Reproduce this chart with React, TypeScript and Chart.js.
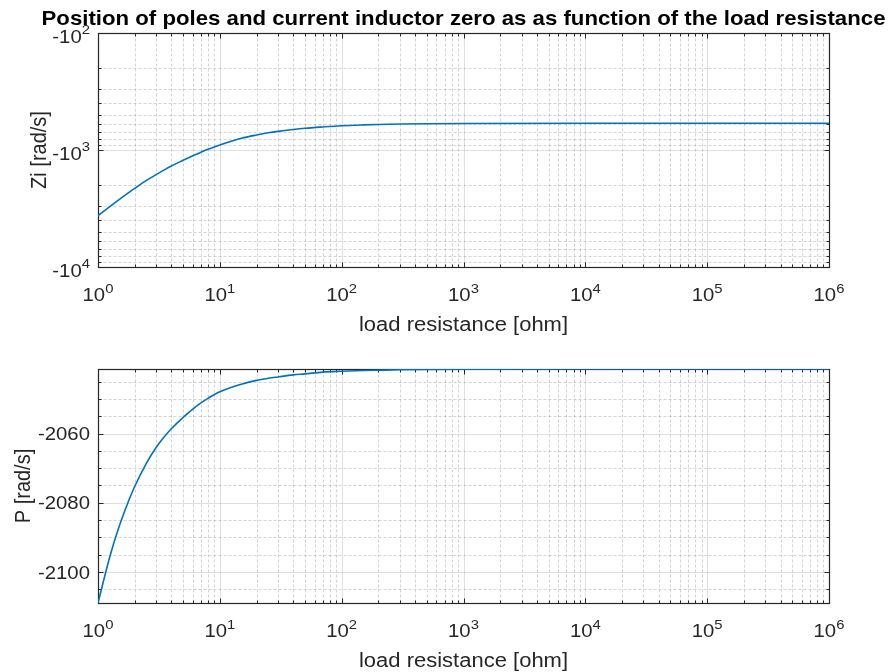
import { useEffect, useRef } from 'react';
import { Chart, registerables } from 'chart.js';

Chart.register(...registerables);

// Load resistance sweep [ohm]
const resistance = [
  1, 1.25, 1.5, 1.75, 2, 2.5, 3, 3.5, 4, 5, 6, 7, 8, 10, 12, 15, 20, 25, 30, 40, 50, 70, 100, 150, 200, 300, 500,
  1e3, 1e4, 1e5, 1e6,
];
// Magnitude of the current inductor zero [rad/s]; the zero itself is -|Zi|
const ziMagnitude = [
  3630, 3050, 2640, 2350, 2130, 1820, 1625, 1480, 1370, 1225, 1120, 1045, 985, 905, 850, 795, 745, 713, 693, 668, 652,
  635, 620, 610, 605, 600, 596, 593, 590, 590, 590,
];
// Pole position P [rad/s]
const polePosition = [
  -2109.0, -2095.6, -2086.6, -2080.2, -2075.3, -2068.5, -2064.0, -2060.9, -2058.6, -2055.3, -2052.9, -2051.1, -2049.8,
  -2047.9, -2046.8, -2045.7, -2044.6, -2044.0, -2043.6, -2043.0, -2042.7, -2042.2, -2041.95, -2041.75, -2041.65,
  -2041.52, -2041.43, -2041.37, -2041.31, -2041.3, -2041.3,
];

// Axis ticks
const xExponents = [0, 1, 2, 3, 4, 5, 6];
const ziExponents = [2, 3, 4];
const poleTicks = [-2100, -2080, -2060];
const poleMinorTicks = [-2105, -2095, -2090, -2085, -2075, -2070, -2065, -2055, -2050, -2045];
const poleLimits = [-2109, -2041.3];

const titleText = 'Position of poles and current inductor zero as as function of the load resistance';
const xLabel = 'load resistance [ohm]';
const ziLabel = 'Zi [rad/s]';
const poleLabel = 'P [rad/s]';

const LINE_COLOR = '#0072BD';
const INK = '#262626';
const MAJOR_GRID = 'rgba(38,38,38,0.15)';
const MINOR_GRID = 'rgba(38,38,38,0.2)';
const FAMILY = '"Liberation Sans", Arial, Helvetica, sans-serif';
const SX = 1.1; // horizontal text stretch
const TICK_SIZE = 18.5;
const SUP_SIZE = 13.5;
const LABEL_SIZE = 20;
const TITLE_SIZE = 20.2;

const W = 889;
const H = 336;

function decadeMinors(exps: number[]): number[] {
  const out: number[] = [];
  for (let i = 0; i < exps.length - 1; i++) {
    for (let k = 2; k <= 9; k++) out.push(k * Math.pow(10, exps[i]));
  }
  return out;
}

function drawText(
  ctx: CanvasRenderingContext2D,
  str: string,
  x: number,
  y: number,
  size: number,
  align: CanvasTextAlign,
  opts: { bold?: boolean; rotate?: boolean; color?: string } = {}
) {
  ctx.save();
  ctx.translate(x, y);
  ctx.scale(SX, 1);
  if (opts.rotate) ctx.rotate(-Math.PI / 2);
  ctx.font = `${opts.bold ? 'bold ' : ''}${size}px ${FAMILY}`;
  ctx.textAlign = align;
  ctx.textBaseline = 'alphabetic';
  ctx.fillStyle = opts.color || INK;
  ctx.fillText(str, 0, 0);
  ctx.restore();
}

function drawPower(
  ctx: CanvasRenderingContext2D,
  prefix: string,
  exp: string,
  x: number,
  cy: number,
  align: 'center' | 'right'
) {
  ctx.save();
  ctx.font = `${TICK_SIZE}px ${FAMILY}`;
  const base = prefix + '10';
  const wb = ctx.measureText(base).width * SX;
  ctx.font = `${SUP_SIZE}px ${FAMILY}`;
  const ws = ctx.measureText(exp).width * SX;
  ctx.restore();
  const total = wb + ws;
  const left = align === 'center' ? x - total / 2 : x - total;
  drawText(ctx, base, left, cy + 3 + 0.358 * TICK_SIZE, TICK_SIZE, 'left');
  drawText(ctx, exp, left + wb, cy - 3.5 + 0.358 * SUP_SIZE, SUP_SIZE, 'left');
}

type AxesSpec = {
  xMajor: number[];
  xMinor: number[];
  yMajor: number[];
  yMinor: number[];
  yTickLabels: (ctx: CanvasRenderingContext2D, ys: any, left: number) => void;
  yLabel: string;
  yLabelX: number;
  title?: string;
};

function axesPlugin(spec: AxesSpec) {
  return {
    id: 'matlabAxes',
    beforeDatasetsDraw(chart: any) {
      const { ctx, chartArea: a } = chart;
      const xs = chart.scales.x;
      const ys = chart.scales.y;
      const px = (v: number) => Math.round(xs.getPixelForValue(v)) + 0.5;
      const py = (v: number) => Math.round(ys.getPixelForValue(v)) + 0.5;
      const L = Math.round(a.left) + 0.5;
      const R = Math.round(a.right) + 0.5;
      const T = Math.round(a.top) + 0.5;
      const B = Math.round(a.bottom) + 0.5;

      ctx.save();
      ctx.lineWidth = 1;

      // minor grid
      ctx.strokeStyle = MINOR_GRID;
      ctx.setLineDash([3, 2]);
      ctx.beginPath();
      spec.xMinor.forEach((v) => {
        const x = px(v);
        ctx.moveTo(x, T);
        ctx.lineTo(x, B);
      });
      spec.yMinor.forEach((v) => {
        const y = py(v);
        ctx.moveTo(L, y);
        ctx.lineTo(R, y);
      });
      ctx.stroke();

      // major grid
      ctx.setLineDash([]);
      ctx.strokeStyle = MAJOR_GRID;
      ctx.beginPath();
      spec.xMajor.forEach((v) => {
        const x = px(v);
        ctx.moveTo(x, T);
        ctx.lineTo(x, B);
      });
      spec.yMajor.forEach((v) => {
        const y = py(v);
        ctx.moveTo(L, y);
        ctx.lineTo(R, y);
      });
      ctx.stroke();

      // box and inward ticks on all sides
      ctx.strokeStyle = INK;
      ctx.beginPath();
      const tickX = (vals: number[], len: number) =>
        vals.forEach((v) => {
          const x = px(v);
          ctx.moveTo(x, B);
          ctx.lineTo(x, B - len);
          ctx.moveTo(x, T);
          ctx.lineTo(x, T + len);
        });
      const tickY = (vals: number[], len: number) =>
        vals.forEach((v) => {
          const y = py(v);
          ctx.moveTo(L, y);
          ctx.lineTo(L + len, y);
          ctx.moveTo(R, y);
          ctx.lineTo(R - len, y);
        });
      tickX(spec.xMajor, 5);
      tickX(spec.xMinor, 3);
      tickY(spec.yMajor, 5);
      tickY(spec.yMinor, 3);
      ctx.stroke();
      ctx.lineWidth = 1.2;
      ctx.strokeRect(L, T, R - L, B - T);
      ctx.restore();
    },
    afterDraw(chart: any) {
      const { ctx, chartArea: a } = chart;
      const xs = chart.scales.x;
      const ys = chart.scales.y;
      const cx = (a.left + a.right) / 2;

      xExponents.forEach((e) => {
        drawPower(ctx, '', String(e), xs.getPixelForValue(Math.pow(10, e)), a.bottom + 24.5, 'center');
      });
      spec.yTickLabels(ctx, ys, a.left);

      drawText(ctx, xLabel, cx, a.bottom + 63.5, LABEL_SIZE, 'center');
      drawText(ctx, spec.yLabel, spec.yLabelX, (a.top + a.bottom) / 2, LABEL_SIZE, 'center', { rotate: true });

      if (spec.title) {
        drawText(ctx, spec.title, cx, a.top - 8, TITLE_SIZE, 'center', { bold: true, color: '#000' });
      }
    },
  };
}

function baseOptions(yScale: any) {
  return {
    responsive: false,
    animation: false as const,
    devicePixelRatio: 1,
    events: [],
    layout: { padding: { left: 98, right: 60, top: 33, bottom: 69 } },
    plugins: { legend: { display: false }, tooltip: { enabled: false }, title: { display: false } },
    scales: {
      x: { type: 'logarithmic' as const, min: 1, max: 1e6, display: false },
      y: yScale,
    },
  };
}

export default function App() {
  const topRef = useRef<HTMLCanvasElement | null>(null);
  const bottomRef = useRef<HTMLCanvasElement | null>(null);

  useEffect(() => {
    const xMajor = xExponents.map((e) => Math.pow(10, e));
    const xMinor = decadeMinors(xExponents);

    const zeroChart = new Chart(topRef.current as HTMLCanvasElement, {
      type: 'line',
      data: {
        datasets: [
          {
            data: resistance.map((r, i) => ({ x: r, y: ziMagnitude[i] })),
            borderColor: LINE_COLOR,
            borderWidth: 1.6,
            pointRadius: 0,
            fill: false,
            cubicInterpolationMode: 'monotone',
          },
        ],
      },
      options: baseOptions({
        type: 'logarithmic',
        min: Math.pow(10, ziExponents[0]),
        max: Math.pow(10, ziExponents[ziExponents.length - 1]),
        reverse: true,
        display: false,
      }) as any,
      plugins: [
        axesPlugin({
          xMajor,
          xMinor,
          yMajor: ziExponents.map((e) => Math.pow(10, e)),
          yMinor: decadeMinors(ziExponents),
          yTickLabels: (ctx, ys, left) => {
            ziExponents.forEach((e) => {
              drawPower(ctx, '-', String(e), left - 8, ys.getPixelForValue(Math.pow(10, e)), 'right');
            });
          },
          yLabel: ziLabel,
          yLabelX: 46,
          title: titleText,
        }),
      ],
    });

    const poleChart = new Chart(bottomRef.current as HTMLCanvasElement, {
      type: 'line',
      data: {
        datasets: [
          {
            data: resistance.map((r, i) => ({ x: r, y: polePosition[i] })),
            borderColor: LINE_COLOR,
            borderWidth: 1.6,
            pointRadius: 0,
            fill: false,
            cubicInterpolationMode: 'monotone',
          },
        ],
      },
      options: baseOptions({
        type: 'linear',
        min: poleLimits[0],
        max: poleLimits[1],
        display: false,
      }) as any,
      plugins: [
        axesPlugin({
          xMajor,
          xMinor,
          yMajor: poleTicks,
          yMinor: poleMinorTicks,
          yTickLabels: (ctx, ys, left) => {
            poleTicks.forEach((v) => {
              drawText(ctx, String(v), left - 8, ys.getPixelForValue(v) + 0.358 * TICK_SIZE, TICK_SIZE, 'right');
            });
          },
          yLabel: poleLabel,
          yLabelX: 30,
        }),
      ],
    });

    return () => {
      zeroChart.destroy();
      poleChart.destroy();
    };
  }, []);

  return (
    <div style={{ position: 'fixed', left: 0, top: 0, width: W, height: 2 * H, background: '#fff' }}>
      <canvas ref={topRef} width={W} height={H} style={{ display: 'block', width: W, height: H }} />
      <canvas ref={bottomRef} width={W} height={H} style={{ display: 'block', width: W, height: H }} />
    </div>
  );
}
